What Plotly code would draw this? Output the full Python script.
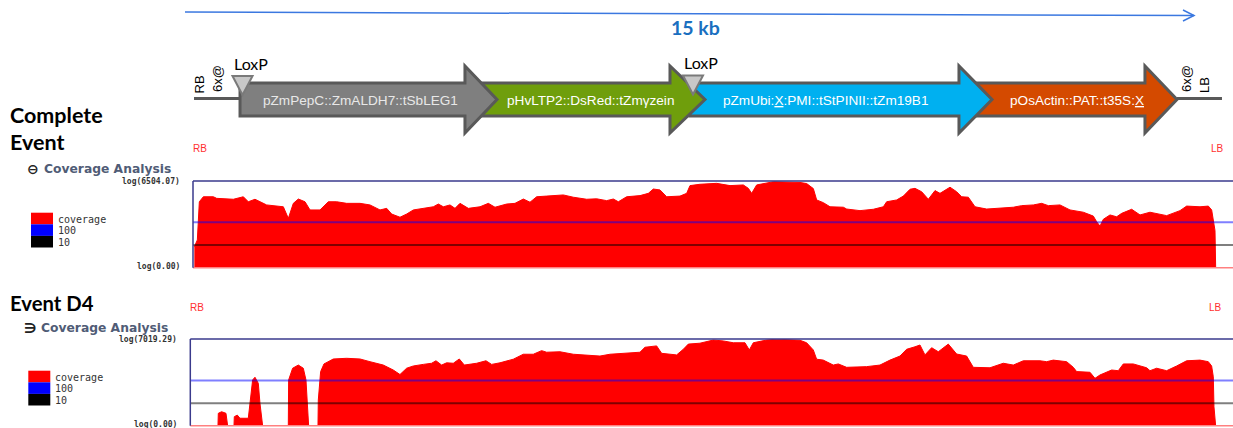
import math
import plotly.graph_objects as go

W, H = 1233, 428

# ---------------- coverage data (log10 of read coverage) ----------------
complete_pos = [20, 65, 95, 155, 305, 355, 605, 755, 830, 930, 1105, 1355, 1430, 1505, 1580, 1680, 1755, 1905,
                2030, 2155, 2305, 2505, 2655, 2805, 2905, 2980, 3105, 3205, 3305, 3455, 3605, 3680, 3755, 3855,
                3930, 4005, 4130, 4305, 4430, 4530, 4705, 4830, 4955, 5055, 5155, 5305, 5555, 5705, 5905, 6055,
                6205, 6305, 6380, 6505, 6705, 6830, 6905, 7005, 7105, 7305, 7405, 7455, 7605, 7855, 8055, 8255,
                8330, 8380, 8455, 8705, 8905, 9105, 9205, 9305, 9355, 9455, 9555, 9755, 9805, 10005, 10205, 10355,
                10405, 10555, 10655, 10755, 10830, 10930, 11030, 11130, 11205, 11355, 11455, 11530, 11630, 11730,
                11905, 12105, 12305, 12430, 12605, 12730, 12830, 13005, 13155, 13355, 13505, 13555, 13605, 13655,
                13755, 13855, 13930, 14080, 14205, 14355, 14605, 14805, 14905, 15105, 15230, 15280, 15305, 15330,
                15340]
complete_log = [0.92, 1.22, 2.90, 3.12, 3.12, 3.05, 3.01, 3.12, 2.90, 3.01, 2.76, 2.68, 2.17, 2.83, 3.02, 2.90,
                2.54, 2.54, 2.90, 2.90, 2.83, 2.83, 2.76, 2.54, 2.61, 2.36, 2.22, 2.36, 2.54, 2.61, 2.68, 2.80,
                2.68, 2.76, 2.61, 2.83, 2.61, 2.68, 2.83, 2.66, 2.80, 2.83, 3.02, 2.88, 3.12, 3.15, 3.20, 3.10,
                3.01, 3.03, 2.95, 3.02, 2.90, 3.12, 3.17, 3.27, 3.46, 3.42, 3.12, 3.15, 3.27, 3.61, 3.67, 3.71,
                3.61, 3.64, 3.49, 3.27, 3.64, 3.78, 3.76, 3.75, 3.70, 3.48, 2.98, 2.86, 2.68, 2.66, 2.58, 2.51,
                2.57, 2.68, 2.90, 2.98, 3.15, 3.45, 3.49, 3.34, 3.01, 3.39, 3.27, 3.54, 3.34, 3.12, 3.10, 2.68,
                2.58, 2.61, 2.66, 2.73, 2.76, 2.83, 2.73, 2.76, 2.54, 2.44, 2.27, 2.02, 1.83, 2.13, 2.32, 2.24,
                2.39, 2.57, 2.32, 2.44, 2.29, 2.51, 2.71, 2.68, 2.71, 2.54, 2.10, 1.63, 0]

d4_pos = [0, 415, 420, 470, 535, 560, 655, 660, 705, 745, 870, 895, 935, 970, 1020, 1045, 1085, 1470, 1475, 1535,
          1620, 1695, 1735, 1775, 1915, 1920, 1955, 2005, 2145, 2345, 2545, 2695, 2895, 3045, 3145, 3245, 3345,
          3495, 3620, 3685, 3770, 3845, 3945, 4035, 4110, 4295, 4435, 4520, 4645, 4845, 4995, 5145, 5270, 5345,
          5545, 5745, 5945, 6145, 6295, 6545, 6745, 6820, 6995, 7070, 7295, 7395, 7470, 7645, 7845, 7995, 8145,
          8320, 8385, 8445, 8645, 8795, 9145, 9245, 9345, 9395, 9495, 9645, 9720, 9845, 10145, 10345, 10495,
          10645, 10745, 10870, 10945, 11020, 11120, 11220, 11370, 11495, 11645, 11745, 11995, 12195, 12345,
          12495, 12745, 12845, 12945, 13145, 13245, 13295, 13495, 13570, 13645, 13820, 13920, 13995, 14145,
          14345, 14395, 14495, 14645, 14795, 14945, 15145, 15270, 15320, 15345, 15355, 15380]
d4_log = [0, 0, 0.55, 0.62, 0.55, 0, 0, 0.40, 0.47, 0.33, 0.33, 0.99, 2.03, 2.15, 1.88, 0.99, 0, 0, 2.03, 2.55,
          2.69, 2.55, 2.03, 0, 0, 1.14, 2.40, 2.74, 2.96, 2.99, 2.96, 2.84, 2.69, 2.47, 2.27, 2.55, 2.65, 2.72,
          2.77, 2.88, 2.69, 2.79, 2.77, 2.96, 2.69, 2.77, 2.88, 2.72, 2.79, 2.95, 3.17, 3.17, 3.33, 3.26, 3.28,
          3.17, 3.14, 3.09, 3.17, 3.21, 3.26, 3.48, 3.54, 3.21, 3.14, 3.39, 3.62, 3.66, 3.80, 3.76, 3.68, 3.68,
          3.36, 3.68, 3.80, 3.84, 3.79, 3.68, 3.36, 2.95, 2.91, 2.69, 2.74, 2.59, 2.62, 2.69, 2.91, 3.09, 3.39,
          3.50, 3.58, 3.14, 3.46, 3.28, 3.62, 3.18, 3.09, 2.59, 2.57, 2.77, 2.69, 2.88, 2.88, 2.84, 2.91, 2.84,
          2.59, 2.40, 2.37, 2.10, 2.25, 2.47, 2.44, 2.74, 2.74, 2.57, 2.44, 2.55, 2.44, 2.65, 2.88, 2.91, 2.84,
          2.65, 2.17, 0.84, 0]

complete_max = 6504.07
d4_max = 7019.29
thresholds = [100, 10]
threshold_colors = ["rgba(0,0,255,0.5)", "rgba(0,0,0,0.5)"]
legend_labels = ["coverage", "100", "10"]
legend_colors = ["#ff0000", "#0000ff", "#000000"]

# ---------------- construct map (bp) ----------------
elements = [  # name, body start, head base, tip, fill, text color
    ("pZmPepC::ZmALDH7::tSbLEG1", 818, 4162, 4638, "#7f7f7f", "#e8e8e8"),
    ("pHvLTP2::DsRed::tZmγzein", 4237, 7210, 7730, "#6f9e0c", "#ffffff"),
    ("pZmUbi:<u>X</u>:PMI::tStPINII::tZm19B1", 7507, 11506, 11997, "#00b0f0", "#ffffff"),
    ("pOsActin::PAT::t35S:<u>X</u>", 11744, 14271, 14747, "#d44a00", "#ffffff"),
]
label_centers = [2602, 6021, 9529, 13260]
loxp_sites = [855, 7552]
scale_kb = 15
bp_per_px = 15000 / 1009.0


def fx(p):
    return p / W


def fy(p):
    return 1 - p / H


fig = go.Figure()
fig.add_trace(go.Scatter(x=complete_pos, y=complete_log, mode="lines", fill="tozeroy",
                         line=dict(color="#ff0000", width=1), fillcolor="#ff0000",
                         xaxis="x", yaxis="y", hoverinfo="skip"))
fig.add_trace(go.Scatter(x=d4_pos, y=d4_log, mode="lines", fill="tozeroy",
                         line=dict(color="#ff0000", width=1), fillcolor="#ff0000",
                         xaxis="x2", yaxis="y2", hoverinfo="skip"))

ax = dict(visible=False, showgrid=False, zeroline=False, fixedrange=True)
fig.update_layout(
    width=W, height=H, margin=dict(l=0, r=0, t=0, b=0),
    paper_bgcolor="white", plot_bgcolor="rgba(0,0,0,0)", showlegend=False,
    xaxis=dict(ax, domain=[fx(193), 1], range=[0, (W - 193) * 15], anchor="y"),
    yaxis=dict(ax, domain=[fy(267.7), fy(181)], range=[0, math.log10(complete_max)], anchor="x"),
    xaxis2=dict(ax, domain=[fx(190.3), 1], range=[0, (W - 190.3) * 15], anchor="y2"),
    yaxis2=dict(ax, domain=[fy(425.7), fy(339)], range=[0, math.log10(d4_max)], anchor="x2"),
    xaxis3=dict(ax, domain=[0, 1], range=[-185 * bp_per_px, (W - 185) * bp_per_px], anchor="y3"),
    yaxis3=dict(ax, domain=[0, 1], range=[H, 0], anchor="x3"),
)

shapes = []
annotations = []

# coverage panel frames and threshold lines
for xa, ya in (("x", "y"), ("x2", "y2")):
    xd, yd = xa + " domain", ya + " domain"
    for t, c in zip(thresholds, threshold_colors):
        shapes.append(dict(type="line", xref=xd, yref=ya, x0=0, x1=1, y0=math.log10(t), y1=math.log10(t),
                           line=dict(color=c, width=2)))
    shapes.append(dict(type="line", xref=xd, yref=yd, x0=0, x1=1, y0=1, y1=1, line=dict(color="#3a3a8c", width=1.5)))
    shapes.append(dict(type="line", xref=xd, yref=yd, x0=0, x1=1, y0=0, y1=0, line=dict(color="#ff8080", width=1.5)))
    shapes.append(dict(type="line", xref=xd, yref=yd, x0=0, x1=0, y0=0, y1=1, line=dict(color="#3a3a8c", width=1.5)))


def txt(x, y, s, size, color="#000000", family="Liberation Sans", xanchor="left", angle=0, xref="paper",
        yref="paper"):
    annotations.append(dict(x=x if xref != "paper" else fx(x), y=y if yref != "paper" else fy(y),
                            xref=xref, yref=yref, text=s, showarrow=False,
                            xanchor=xanchor, yanchor="middle", textangle=angle,
                            font=dict(size=size, color=color, family=family), borderpad=0))


# legends
for (lx, ly, tx), title_y, icon in (((31, 212.7, 57), 169.5, "⊖"),
                                    ((28.3, 370.7, 54), 327.5, "∋")):
    for i, (lab, col) in enumerate(zip(legend_labels, legend_colors)):
        y0 = ly + i * 11.6
        shapes.append(dict(type="rect", xref="paper", yref="paper", x0=fx(lx), x1=fx(lx + 22),
                           y0=fy(y0), y1=fy(y0 + 11.6), fillcolor=col, line=dict(width=0)))
        txt(tx, y0 + 6.5, lab, 10, "#333333", "DejaVu Sans Mono")
    txt(lx - 5, title_y, "<b>" + icon + "</b>", 14, "#222222", "DejaVu Sans")
    txt(lx + 11.5, title_y, "<b>Coverage Analysis</b>", 12.3, "#505c76", "DejaVu Sans")

txt(181, 181, "<b>log(%.2f)</b>" % complete_max, 8, "#333333", "DejaVu Sans Mono", xanchor="right")
txt(181, 266.5, "<b>log(0.00)</b>", 8, "#333333", "DejaVu Sans Mono", xanchor="right")
txt(178, 339.5, "<b>log(%.2f)</b>" % d4_max, 8, "#333333", "DejaVu Sans Mono", xanchor="right")
txt(178, 424, "<b>log(0.00)</b>", 8, "#333333", "DejaVu Sans Mono", xanchor="right")

txt(192, 148.5, "RB", 10, "#ff3030")
txt(1225, 148.5, "LB", 10, "#ff3030", xanchor="right")
txt(189, 307.5, "RB", 10, "#ff3030")
txt(1223, 307.5, "LB", 10, "#ff3030", xanchor="right")

txt(9, 115, "<b>Complete</b>", 21.5, "#000000", "Lato")
txt(9, 142.5, "<b>Event</b>", 21.5, "#000000", "Lato")
txt(9, 303, "<b>Event D4</b>", 20.3, "#000000", "Lato")

# ---------------- construct map ----------------
# baselines
shapes.append(dict(type="line", xref="x3", yref="y3", x0=134, x1=818, y0=98.5, y1=98.5,
                   line=dict(color="#595959", width=3)))
shapes.append(dict(type="line", xref="x3", yref="y3", x0=14747, x1=15416, y0=98.5, y1=98.5,
                   line=dict(color="#595959", width=3)))
# block arrows, drawn right-to-left so each head overlaps the next tail
for name, x0, xb, xt, col, tcol in reversed(elements):
    path = (f"M{x0},83 L{xb},83 L{xb},66 L{xt},99.5 L{xb},133 L{xb},116 L{x0},116 Z")
    shapes.append(dict(type="path", xref="x3", yref="y3", path=path, fillcolor=col,
                       line=dict(color="#595959", width=3)))
for (name, x0, xb, xt, col, tcol), cx in zip(elements, label_centers):
    txt(cx, 100, name, 13.6, tcol, "Liberation Sans", xanchor="center", xref="x3", yref="y3")

# LoxP triangles
for i, lx in enumerate(loxp_sites):
    top = 76 if i == 0 else 75.5
    hw = 10 * bp_per_px
    shapes.append(dict(type="path", xref="x3", yref="y3",
                       path=f"M{lx - hw},{top} L{lx + hw},{top} L{lx},{top + 19} Z",
                       fillcolor="#c8c8c8", line=dict(color="#7a7a7a", width=2)))
    txt(lx - 10 * bp_per_px, top - 13, "LoxP", 16, "#000000", "Lato", xref="x3", yref="y3")

# border labels (vertical)
txt(199, 84.5, "RB", 13, angle=-90, xanchor="center")
txt(217.5, 78.5, "6x@", 13, angle=-90, xanchor="center")
txt(1186, 79, "6x@", 13, angle=-90, xanchor="center")
txt(1204, 85, "LB", 13, angle=-90, xanchor="center")

# 15 kb scale arrow
shapes.append(dict(type="line", xref="x3", yref="y3", x0=0, x1=scale_kb * 1000, y0=12, y1=15.5,
                   line=dict(color="#3b78e0", width=1.5)))
shapes.append(dict(type="path", xref="x3", yref="y3",
                   path=f"M{scale_kb * 1000 - 11 * bp_per_px},10 L{scale_kb * 1000},15.5 "
                        f"L{scale_kb * 1000 - 11 * bp_per_px},21",
                   line=dict(color="#3b78e0", width=1.5)))
txt(scale_kb * 1000 / 2 + 5.5 * bp_per_px, 27.5, "<b>%d kb</b>" % scale_kb, 19.5, "#1a6fc0", "Lato",
    xanchor="center", xref="x3", yref="y3")

fig.update_layout(shapes=shapes, annotations=annotations)
fig.write_html("out.html", config={"displayModeBar": False},
               post_script="document.body.style.margin='0';")
